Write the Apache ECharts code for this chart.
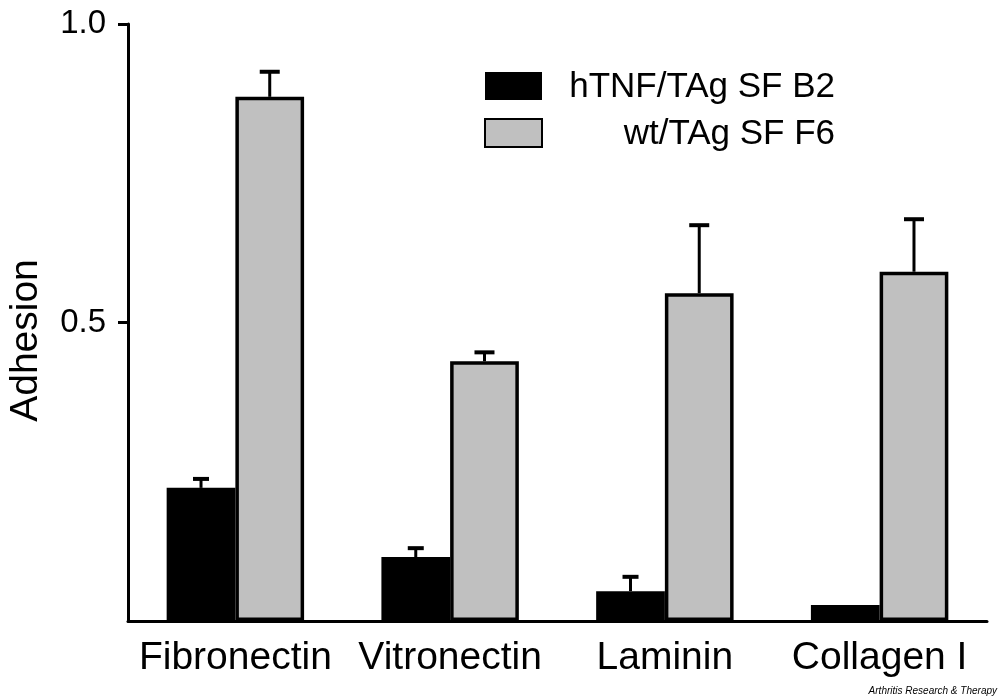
<!DOCTYPE html>
<html><head><meta charset="utf-8">
<script src="https://cdn.jsdelivr.net/npm/echarts@6/dist/echarts.min.js"></script>
<style>html,body{margin:0;padding:0;background:#fff}#c{width:1000px;height:700px}</style>
</head><body><div id="c"></div>
<script>
const categories = ['Fibronectin', 'Vitronectin', 'Laminin', 'Collagen I'];
const seriesNames = ['hTNF/TAg SF B2', 'wt/TAg SF F6'];
const b2Values = [0.223, 0.107, 0.050, 0.027];
const b2Errors = [0.015, 0.015, 0.024, 0];
const f6Values = [0.878, 0.435, 0.549, 0.585];
const f6Errors = [0.042, 0.015, 0.114, 0.088];
const yTicks = [0.5, 1.0];

const FONT = 'Liberation Sans, Arial, sans-serif';
const CAT_GAP = 0.36;

function errSeries(vals, errs, idx, capW) {
  return {
    type: 'custom', name: seriesNames[idx] + ' err', silent: true, z: 1,
    data: vals.map((v, i) => [i, v, v + errs[i]]),
    renderItem: function (params, api) {
      const i = api.value(0), v = api.value(1), t = api.value(2);
      const band = api.size([1, 0])[0];
      const bw = band * (1 - CAT_GAP) / 2;
      const c = api.coord([i, v]);
      const x = c[0] + (idx === 0 ? -bw / 2 : bw / 2);
      const y0 = c[1];
      const y1 = api.coord([i, t])[1];
      if (t - v <= 0) return null;
      return {
        type: 'group', children: [
          { type: 'line', shape: { x1: x, y1: y0, x2: x, y2: y1 }, style: { stroke: '#000', lineWidth: 3 } },
          { type: 'line', shape: { x1: x - capW / 2, y1: y1, x2: x + capW / 2, y2: y1 }, style: { stroke: '#000', lineWidth: 4 } }
        ]
      };
    }
  };
}

const chart = echarts.init(document.getElementById('c'), null, { renderer: 'canvas' });
chart.setOption({
  backgroundColor: '#fff',
  animation: false,
  grid: { left: 128, right: 13, top: 24, bottom: 79, containLabel: false, outerBoundsMode: 'none' },
  legend: {
    left: 484, top: 67, padding: 0, orient: 'vertical', itemWidth: 57, itemHeight: 28, itemGap: 9,
    icon: 'rect',
    data: seriesNames,
    formatter: n => '{t|' + n + '}',
    textStyle: { rich: { t: { width: 288, align: 'right', fontSize: 35, lineHeight: 35, padding: [3, 0, 0, 0], fontFamily: FONT, color: '#000' } } }
  },
  xAxis: {
    type: 'category', data: categories,
    axisLine: { lineStyle: { color: '#000', width: 3 } },
    axisTick: { show: false },
    axisLabel: { color: '#000', fontSize: 39, fontFamily: FONT, margin: 18, interval: 0, hideOverlap: false }
  },
  yAxis: {
    type: 'value', min: 0, max: 1, interval: 0.5,
    name: 'Adhesion', nameLocation: 'middle', nameGap: 82,
    nameTextStyle: { color: '#000', fontSize: 39, fontFamily: FONT, padding: [0, 36, 0, 0] },
    axisLine: { show: true, lineStyle: { color: '#000', width: 3 } },
    axisTick: { show: true, length: 10, customValues: yTicks, lineStyle: { color: '#000', width: 3 } },
    splitLine: { show: false },
    axisLabel: {
      color: '#000', fontSize: 33, fontFamily: FONT, margin: 22,
      customValues: yTicks,
      formatter: v => v.toFixed(1)
    }
  },
  series: [
    {
      type: 'bar', name: seriesNames[0], data: b2Values, barGap: '0%', barCategoryGap: '36%',
      itemStyle: { color: '#000', borderColor: '#000', borderWidth: 0 }
    },
    {
      type: 'bar', name: seriesNames[1], data: f6Values, barGap: '0%', barCategoryGap: '36%',
      itemStyle: { color: '#c0c0c0', borderColor: '#000', borderWidth: 3.5 }
    },
    errSeries(b2Values, b2Errors, 0, 16),
    errSeries(f6Values, f6Errors, 1, 20)
  ],
  graphic: [
    { type: 'text', right: 3, top: 686, style: { text: 'Arthritis Research & Therapy', fontSize: 10, fontStyle: 'italic', fontFamily: FONT, fill: '#000' } }
  ]
});
</script></body></html>
